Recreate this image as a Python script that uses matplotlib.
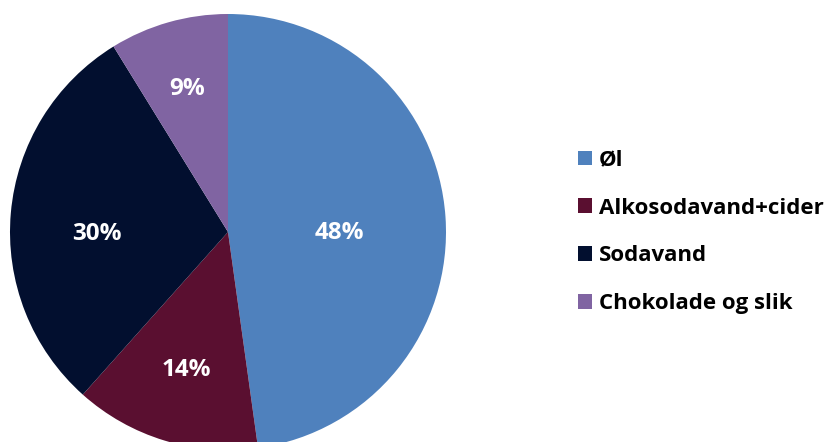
import numpy as np
import matplotlib
matplotlib.use('Agg')
import matplotlib.pyplot as plt

categories = ['Øl', 'Alkosodavand+cider', 'Sodavand', 'Chokolade og slik']
shares = [47.8, 13.8, 29.6, 8.8]
colors = ['#4F81BD', '#5A0F30', '#020F2F', '#8064A2']
label_radius = [0.51, 0.66, 0.60, 0.68]
label_shift = [-4.5, 0, 6, 0]  # degrees

plt.rcParams['font.family'] = ['Open Sans', 'DejaVu Sans']

fig = plt.figure(figsize=(8.25, 4.42), dpi=100)
# pie axes placed so the bottom of the pie runs slightly off the figure
ax = fig.add_axes([10 / 825, -8 / 442, 436 / 825, 436 / 442])
wedges, _ = ax.pie(shares, colors=colors, startangle=90, counterclock=False,
                   radius=1, wedgeprops=dict(linewidth=0))
ax.set_xlim(-1, 1)
ax.set_ylim(-1, 1)
ax.set_aspect('equal')
ax.axis('off')

for w, s, r, d in zip(wedges, shares, label_radius, label_shift):
    mid = np.deg2rad((w.theta1 + w.theta2) / 2 + d)
    ax.text(r * np.cos(mid), r * np.sin(mid), f'{s:.0f}%', color='white',
            fontsize=17.5, fontweight='bold', ha='center', va='center')

fig.legend(wedges, categories, loc='center left', bbox_to_anchor=(578 / 825, 1 - 232 / 442),
           frameon=False, prop=dict(size=16, weight='bold'), handlelength=0.63, handleheight=0.63,
           handletextpad=0.32, labelspacing=1.21, borderpad=0, borderaxespad=0)

fig.savefig('out.png', dpi=100)
